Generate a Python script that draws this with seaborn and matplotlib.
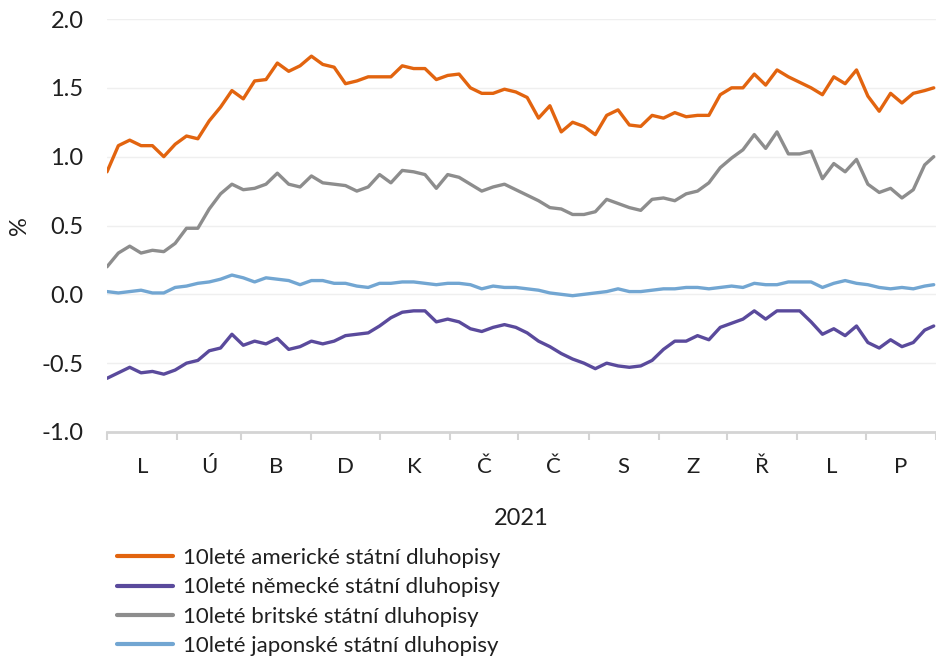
import numpy as np
import pandas as pd
import matplotlib
matplotlib.use("Agg")
import matplotlib.pyplot as plt
import matplotlib.dates as mdates
from matplotlib.ticker import FuncFormatter, FixedLocator
import seaborn as sns

# ---------------- data ----------------
dates = list(pd.date_range("2021-01-01", periods=73, freq="5D")) + [pd.Timestamp("2021-12-31")]

us = [0.89, 1.08, 1.12, 1.08, 1.08, 1.00, 1.09, 1.15, 1.13, 1.26,
      1.36, 1.48, 1.42, 1.55, 1.56, 1.68, 1.62, 1.66, 1.73, 1.67,
      1.65, 1.53, 1.55, 1.58, 1.58, 1.58, 1.66, 1.64, 1.64, 1.56,
      1.59, 1.60, 1.50, 1.46, 1.46, 1.49, 1.47, 1.43, 1.28, 1.37,
      1.18, 1.25, 1.22, 1.16, 1.30, 1.34, 1.23, 1.22, 1.30, 1.28,
      1.32, 1.29, 1.30, 1.30, 1.45, 1.50, 1.50, 1.60, 1.52, 1.63,
      1.58, 1.54, 1.50, 1.45, 1.58, 1.53, 1.63, 1.44, 1.33, 1.46,
      1.39, 1.46, 1.48, 1.50]

de = [-0.61, -0.57, -0.53, -0.57, -0.56, -0.58, -0.55, -0.50, -0.48, -0.41,
      -0.39, -0.29, -0.37, -0.34, -0.36, -0.32, -0.40, -0.38, -0.34, -0.36,
      -0.34, -0.30, -0.29, -0.28, -0.23, -0.17, -0.13, -0.12, -0.12, -0.20,
      -0.18, -0.20, -0.25, -0.27, -0.24, -0.22, -0.24, -0.28, -0.34, -0.38,
      -0.43, -0.47, -0.50, -0.54, -0.50, -0.52, -0.53, -0.52, -0.48, -0.40,
      -0.34, -0.34, -0.30, -0.33, -0.24, -0.21, -0.18, -0.12, -0.18, -0.12,
      -0.12, -0.12, -0.20, -0.29, -0.25, -0.30, -0.23, -0.35, -0.39, -0.33,
      -0.38, -0.35, -0.26, -0.23]

uk = [0.20, 0.30, 0.35, 0.30, 0.32, 0.31, 0.37, 0.48, 0.48, 0.62,
      0.73, 0.80, 0.76, 0.77, 0.80, 0.88, 0.80, 0.78, 0.86, 0.81,
      0.80, 0.79, 0.75, 0.78, 0.87, 0.81, 0.90, 0.89, 0.87, 0.77,
      0.87, 0.85, 0.80, 0.75, 0.78, 0.80, 0.76, 0.72, 0.68, 0.63,
      0.62, 0.58, 0.58, 0.60, 0.69, 0.66, 0.63, 0.61, 0.69, 0.70,
      0.68, 0.73, 0.75, 0.81, 0.92, 0.99, 1.05, 1.16, 1.06, 1.18,
      1.02, 1.02, 1.04, 0.84, 0.95, 0.89, 0.98, 0.80, 0.74, 0.77,
      0.70, 0.76, 0.94, 1.00]

jp = [0.02, 0.01, 0.02, 0.03, 0.01, 0.01, 0.05, 0.06, 0.08, 0.09,
      0.11, 0.14, 0.12, 0.09, 0.12, 0.11, 0.10, 0.07, 0.10, 0.10,
      0.08, 0.08, 0.06, 0.05, 0.08, 0.08, 0.09, 0.09, 0.08, 0.07,
      0.08, 0.08, 0.07, 0.04, 0.06, 0.05, 0.05, 0.04, 0.03, 0.01,
      0.00, -0.01, 0.00, 0.01, 0.02, 0.04, 0.02, 0.02, 0.03, 0.04,
      0.04, 0.05, 0.05, 0.04, 0.05, 0.06, 0.05, 0.08, 0.07, 0.07,
      0.09, 0.09, 0.09, 0.05, 0.08, 0.10, 0.08, 0.07, 0.05, 0.04,
      0.05, 0.04, 0.06, 0.07]

series_names = ["10leté americké státní dluhopisy",
                "10leté německé státní dluhopisy",
                "10leté britské státní dluhopisy",
                "10leté japonské státní dluhopisy"]
series_colors = ["#e2640f", "#5a4a9c", "#8d8d8d", "#72a6d2"]
month_labels = ["L", "Ú", "B", "D", "K", "Č", "Č", "S", "Z", "Ř", "L", "P"]
y_ticks = [-1.0, -0.5, 0.0, 0.5, 1.0, 1.5, 2.0]
year_label = "2021"
y_label = "%"

frames = []
for name, vals in zip(series_names, [us, de, uk, jp]):
    frames.append(pd.DataFrame({"date": dates, "value": vals, "series": name}))
df = pd.concat(frames, ignore_index=True)

# ---------------- style ----------------
sns.set_theme(style="white")
plt.rcParams["font.family"] = ["Lato", "DejaVu Sans"]
text_color = "#1f1f1f"

fig = plt.figure(figsize=(9.36, 6.61), dpi=100)
ax = fig.add_axes([107 / 936, 1 - 432 / 661, 829 / 936, 413 / 661])

sns.lineplot(data=df, x="date", y="value", hue="series", hue_order=series_names,
             palette=series_colors, linewidth=2.4, ax=ax)

ax.set_xlim(pd.Timestamp("2021-01-01"), pd.Timestamp("2022-01-01"))
ax.set_ylim(-1.0, 2.0)

# y axis
ax.yaxis.set_major_locator(FixedLocator(y_ticks))
ax.yaxis.set_major_formatter(FuncFormatter(lambda v, p: f"{v:.1f}".replace("−", "-")))
ax.tick_params(axis="y", length=0, pad=17, labelsize=17, labelcolor=text_color)
ax.grid(axis="y", color="#efefef", linewidth=1.0)
ax.set_ylabel(y_label, fontsize=17, color=text_color, labelpad=8)

# x axis: month boundaries as ticks, labels in the middle of months
month_starts = pd.date_range("2021-01-01", periods=13, freq="MS")
month_mids = [s + (e - s) / 2 for s, e in zip(month_starts[:-1], month_starts[1:])]
ax.xaxis.set_major_locator(FixedLocator(mdates.date2num(month_starts)))
ax.xaxis.set_major_formatter(FuncFormatter(lambda v, p: ""))
ax.set_xticks(mdates.date2num(month_mids), minor=True)
ax.set_xticklabels(month_labels, minor=True)
ax.tick_params(axis="x", which="major", length=6, width=1.5, color="#d4d4d4", direction="out", bottom=True)
ax.tick_params(axis="x", which="minor", length=0, pad=18, labelsize=16, labelcolor=text_color)
ax.set_xlabel(year_label, fontsize=17, color=text_color, labelpad=22)

for side in ["top", "right", "left"]:
    ax.spines[side].set_visible(False)
ax.spines["bottom"].set_color("#d4d4d4")
ax.spines["bottom"].set_linewidth(2)

sns.move_legend(ax, "upper left", bbox_to_anchor=(117 / 936, 1 - 548 / 661),
                bbox_transform=fig.transFigure, frameon=False, title=None,
                fontsize=16, handlelength=2.5, handletextpad=0.45,
                labelspacing=0.42, borderpad=0, borderaxespad=0)
leg = ax.get_legend()
for t in leg.get_texts():
    t.set_color(text_color)
for h in leg.legend_handles:
    h.set_linewidth(3)

fig.savefig("out.png", dpi=100, facecolor="white")
